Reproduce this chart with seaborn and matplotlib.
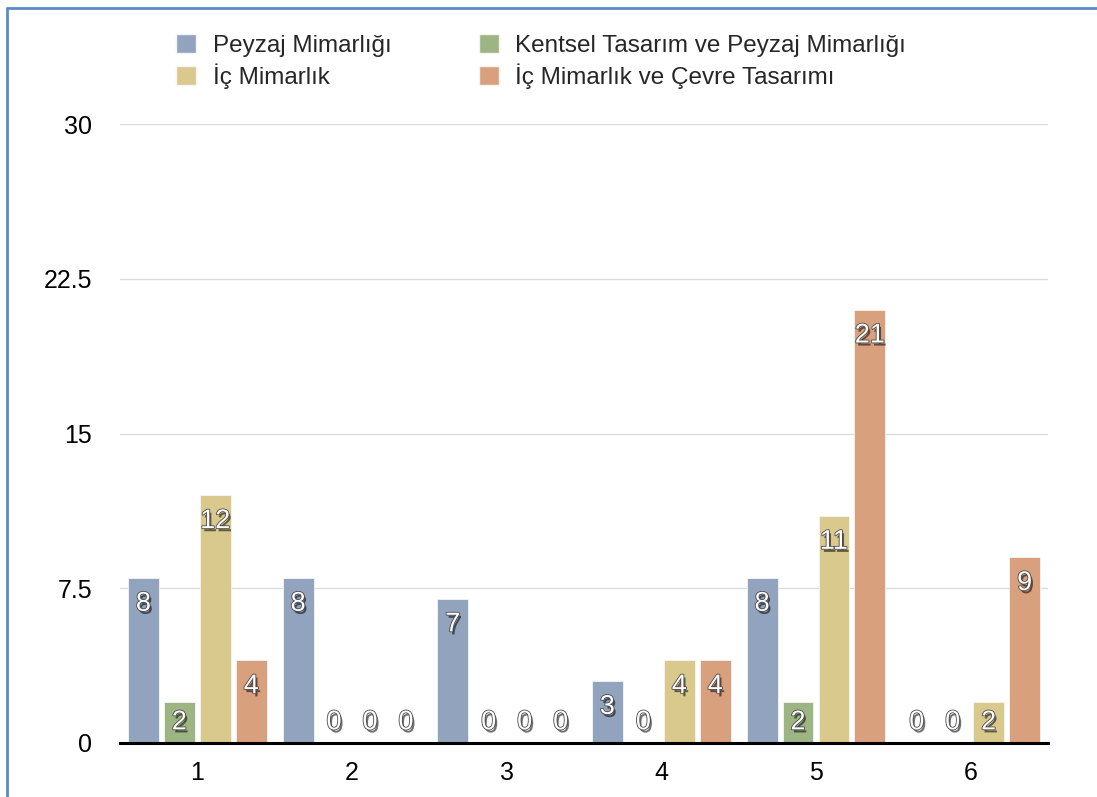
import pandas as pd
import matplotlib.pyplot as plt
import matplotlib.patheffects as pe
from matplotlib.patches import Patch
from matplotlib.lines import Line2D
import seaborn as sns

groups = ['1', '2', '3', '4', '5', '6']
series = ['Peyzaj Mimarlığı', 'Kentsel Tasarım ve Peyzaj Mimarlığı',
          'İç Mimarlık', 'İç Mimarlık ve Çevre Tasarımı']
peyzaj = [8, 8, 7, 3, 8, 0]
kentsel = [2, 0, 0, 0, 2, 0]
ic_mimarlik = [12, 0, 0, 4, 11, 2]
ic_cevre = [4, 0, 0, 4, 21, 9]
colors = ['#91a3bd', '#9db483', '#dac98c', '#d9a07d']
yticks = [0, 7.5, 15, 22.5, 30]
ytick_labels = ['0', '7.5', '15', '22.5', '30']

rows = []
for name, vals in zip(series, [peyzaj, kentsel, ic_mimarlik, ic_cevre]):
    for g, v in zip(groups, vals):
        rows.append({'grup': g, 'seri': name, 'deger': v})
data = pd.DataFrame(rows)

sns.set_style('white')
plt.rcParams['font.family'] = ['Liberation Sans', 'DejaVu Sans']

fig = plt.figure(figsize=(10.97, 7.97), dpi=100)
ax = fig.add_axes([120 / 1097, 1 - 743 / 797, 928 / 1097, 619 / 797])

sns.barplot(data=data, x='grup', y='deger', hue='seri', hue_order=series,
            order=groups, palette=colors, saturation=1, width=0.93, gap=0.14,
            edgecolor='#f4f4f4', linewidth=0.6, legend=False, ax=ax, zorder=3)

ax.set_ylim(0, 30)
ax.set_yticks(yticks)
ax.set_yticklabels(ytick_labels)
ax.yaxis.grid(True, color='#dcdcdc', linewidth=1, zorder=0)
ax.set_axisbelow(True)
ax.tick_params(axis='y', length=0, pad=20, labelsize=18, labelcolor='black')
ax.tick_params(axis='x', length=0, pad=13, labelsize=18, labelcolor='black')
ax.set_xlabel('')
ax.set_ylabel('')
for side in ['top', 'right', 'left']:
    ax.spines[side].set_visible(False)
ax.spines['bottom'].set_color('black')
ax.spines['bottom'].set_linewidth(2.2)
ax.spines['bottom'].set_zorder(5)

# value labels, white with a dark shadow
effects = [pe.SimplePatchShadow(offset=(1.5, -2.2), shadow_rgbFace='black', alpha=0.55),
           pe.Stroke(linewidth=1.2, foreground='#4a4a4a'), pe.Normal()]
for cont in ax.containers:
    for bar in cont:
        v = bar.get_height()
        y = max(v - 1.25, 1.0)
        ax.text(bar.get_x() + bar.get_width() / 2, y, f'{v:g}', ha='center', va='center',
                color='white', fontsize=19.5, zorder=6, path_effects=effects)

handles = [Patch(facecolor=colors[i], edgecolor='#f4f4f4', label=series[i]) for i in [0, 2, 1, 3]]
fig.legend(handles=handles, ncol=2, loc='upper left', bbox_to_anchor=(164 / 1097, 1 - 22 / 797),
           frameon=False, fontsize=17.5, borderpad=0, handlelength=0.83, handleheight=0.83,
           handletextpad=0.67, labelspacing=0.25, columnspacing=3.6)

# blue frame on top and left
fig.add_artist(Line2D([7 / 1097, 1], [1 - 8 / 797, 1 - 8 / 797], color='#5b8ac6', linewidth=2))
fig.add_artist(Line2D([7 / 1097, 7 / 1097], [0, 1 - 8 / 797], color='#5b8ac6', linewidth=2))

fig.savefig('out.png', dpi=100, facecolor='white')
